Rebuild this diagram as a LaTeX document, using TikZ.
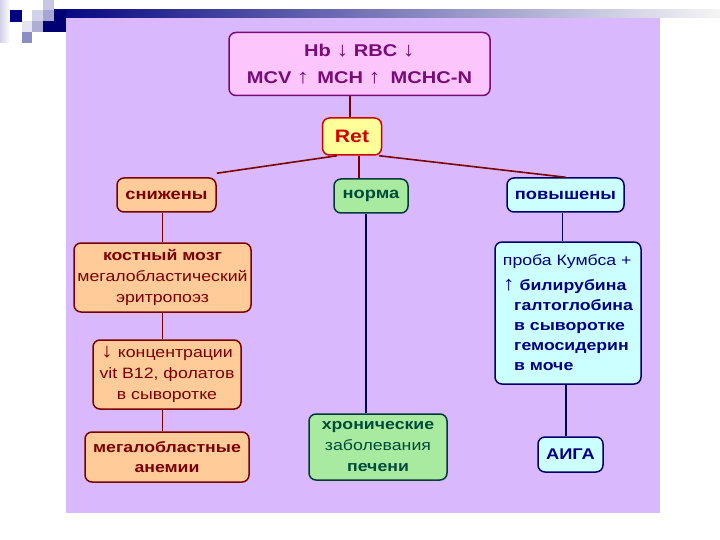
\documentclass[tikz,border=0pt]{standalone}
\usepackage{fontspec}
\setmainfont{Liberation Sans}[FakeStretch=1.18]
\usetikzlibrary{positioning}

\definecolor{panel}{HTML}{D9B8FD}
\definecolor{pinkfill}{HTML}{FCC6FC}
\definecolor{pinkline}{HTML}{7A0A78}
\definecolor{retfill}{HTML}{FFFF99}
\definecolor{retline}{HTML}{D00000}
\definecolor{peachfill}{HTML}{FFCC99}
\definecolor{peachline}{HTML}{7A0000}
\definecolor{greenfill}{HTML}{A8EBA0}
\definecolor{greenline}{HTML}{003838}
\definecolor{greentext}{HTML}{004A3A}
\definecolor{cyanfill}{HTML}{CCFFFF}
\definecolor{cyanline}{HTML}{000066}
\definecolor{cyantext}{HTML}{000080}
\definecolor{navy}{HTML}{000080}

\newcommand{\arrdn}{{\fontsize{20}{20}\selectfont ↓}}
\newcommand{\arrup}{{\fontsize{20}{20}\selectfont ↑}}

\tikzset{
  box/.style={draw, line width=1.5pt, rounded corners=7pt, inner sep=2pt,
              align=center, font=\fontsize{15}{21}\selectfont},
  pinkbox/.style={box, fill=pinkfill, draw=pinkline, text=pinkline,
              font=\fontsize{17}{27}\selectfont\bfseries},
  retbox/.style={box, fill=retfill, draw=retline, text=retline,
              font=\fontsize{18}{22}\selectfont\bfseries},
  peachbox/.style={box, fill=peachfill, draw=peachline, text=peachline},
  greenbox/.style={box, fill=greenfill, draw=greenline, text=greentext},
  cyanbox/.style={box, fill=cyanfill, draw=cyanline, text=cyantext},
  headfont/.style={font=\fontsize{15.5}{21}\selectfont\bfseries},
  redlink/.style={line width=1.6pt, draw=peachline},
  bluelink/.style={line width=1.6pt, draw=cyanline!85!black},
  tile/.style={draw=none},
}

\begin{document}
\begin{tikzpicture}[x=1pt,y=-1pt]
    \useasboundingbox[fill=white] (0,0) rectangle (720,540);

    % slide decoration
    \shade[left color=navy, right color=white!92!gray] (43,10) rectangle (720,18);
    \fill[navy!90!black] (43,10) rectangle (66,32);
    \fill[tile, left color=navy!18, right color=white] (0,0) rectangle (10,43);
    \fill[tile, navy] (10,10) rectangle (22,22);
    \fill[tile, navy!18] (32,10) rectangle (43,21);
    \fill[tile, navy!22] (43,0) rectangle (54,10);
    \fill[tile, navy!35] (43,10) rectangle (54,21);
    \fill[tile, navy!10] (22,21) rectangle (32,32);
    \fill[tile, navy!32] (32,21) rectangle (43,32);
    \fill[tile, navy!45] (22,32) rectangle (32,43);

    % panel
    \fill[panel] (66,18) rectangle (660,513);

    % boxes
    \node[pinkbox, minimum width=261pt, minimum height=63pt] (cbc) at (359.5,64)
        {Hb \arrdn{} RBC \arrdn\\MCV \arrup{} \,MCH \arrup{} \;MCHC-N};
    \node[retbox, minimum width=59pt, minimum height=37pt] (ret) at (352,136.5) {Ret};

    \node[peachbox, headfont, minimum width=99pt, minimum height=34pt] (low) at (166.5,195) {снижены};
    \node[greenbox, headfont, minimum width=74pt, minimum height=34pt] (norm) at (371,196) {норма};
    \node[cyanbox, headfont, minimum width=117pt, minimum height=34pt] (high) at (565.5,195) {повышены};

    \node[peachbox, minimum width=177pt, minimum height=69pt] (marrow) at (162.5,277.5)
        {\textbf{костный мозг}\\мегалобластический\\эритропоэз\hspace{1.6em}};
    \node[peachbox, minimum width=148pt, minimum height=69pt] (conc) at (167,374.5)
        {\textbf{\arrdn} концентрации\\vit B12, фолатов\\в сыворотке};
    \node[peachbox, minimum width=164pt, minimum height=50pt, font=\fontsize{15}{20}\selectfont\bfseries] (mega) at (167,457)
        {мегалобластные\\анемии};

    \node[greenbox, minimum width=138pt, minimum height=66pt] (liver) at (378,447)
        {\textbf{хронические}\\заболевания\\\textbf{печени}};

    \node[cyanbox, minimum width=146pt, minimum height=142pt, align=left] (tests) at (568,313)
        {проба Кумбса +\\[4pt]
         \textbf{\arrup{} билирубина}\\[-1pt]
         \hspace*{0.75em}\textbf{галтоглобина}\\[-1pt]
         \hspace*{0.75em}\textbf{в сыворотке}\\[-1pt]
         \hspace*{0.75em}\textbf{гемосидерин}\\[-1pt]
         \hspace*{0.75em}\textbf{в моче}};
    \node[cyanbox, headfont, minimum width=65pt, minimum height=35pt] (aiga) at (570.5,454.5) {АИГА};

    % connectors
    \draw[redlink] ([xshift=-2pt]ret.north) -- ([xshift=-2pt]ret.north |- cbc.south);
    \draw[redlink] ([xshift=-15pt]ret.south) -- ([yshift=4pt]low.north east);
    \draw[redlink] ([xshift=7pt]ret.south) -- ([xshift=7pt]ret.south |- norm.north);
    \draw[redlink] ([xshift=-3pt]ret.south east) -- (high.north);

    \draw[redlink] (marrow.north) -- (marrow.north |- low.south);
    \draw[redlink] (marrow.south) -- (marrow.south |- conc.north);
    \draw[redlink] (marrow.south |- conc.south) -- (marrow.south |- mega.north);

    \draw[bluelink] ([xshift=-5pt]norm.south) -- ([xshift=-5pt]norm.south |- liver.north);
    \draw[bluelink] ([xshift=-3pt]high.south) -- ([xshift=-3pt]high.south |- tests.north);
    \draw[bluelink] ([xshift=-2pt]tests.south) -- ([xshift=-2pt]tests.south |- aiga.north);
\end{tikzpicture}
\end{document}
